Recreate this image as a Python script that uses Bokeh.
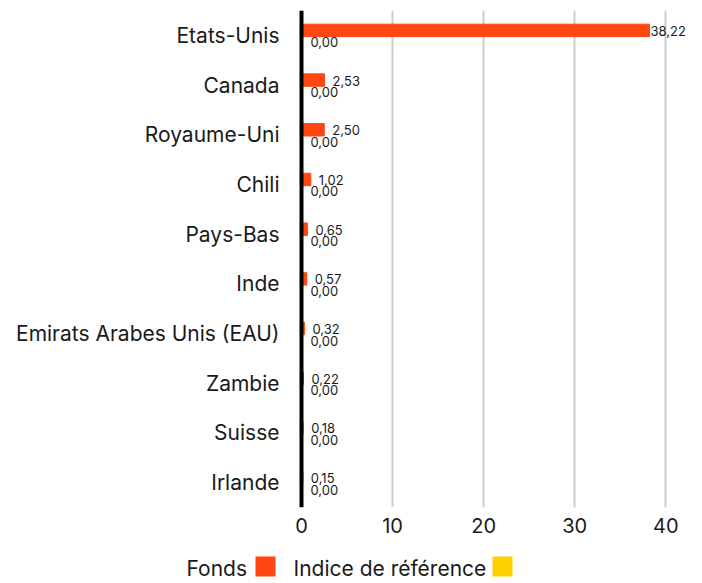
from bokeh.plotting import figure
from bokeh.models import ColumnDataSource, Range1d, FactorRange, Span
from bokeh.transform import dodge
from bokeh.layouts import column
from bokeh.embed import file_html
from bokeh.resources import INLINE
from bokeh.core.properties import value

countries = ["Etats-Unis", "Canada", "Royaume-Uni", "Chili", "Pays-Bas", "Inde",
             "Emirats Arabes Unis (EAU)", "Zambie", "Suisse", "Irlande"]
fonds = [38.22, 2.53, 2.50, 1.02, 0.65, 0.57, 0.32, 0.22, 0.18, 0.15]
indice = [0.00, 0.00, 0.00, 0.00, 0.00, 0.00, 0.00, 0.00, 0.00, 0.00]
series_names = ["Fonds", "Indice de référence"]
x_ticks = [0, 10, 20, 30, 40]

ORANGE = "#FF4713"
YELLOW = "#FFCE00"
FONT = "Inter"
TXT = "#1a1a1a"

def fmt(v):
    return f"{v:.2f}".replace(".", ",")

src = ColumnDataSource(dict(
    country=countries,
    zero=[0] * len(countries),
    fonds=fonds,
    indice=indice,
    fonds_lbl=[fmt(v) for v in fonds],
    indice_lbl=[fmt(v) for v in indice],
))

W, RIGHT = 700, 12
FW = W - RIGHT            # frame spans the full width
ZERO_PX = 301             # where 0 sits on the page
PX_PER_UNIT = 9.106
x_start = -ZERO_PX / PX_PER_UNIT
x_end = (FW - ZERO_PX) / PX_PER_UNIT

p = figure(width=W, height=543, y_range=FactorRange(*countries[::-1]),
           x_range=Range1d(x_start, x_end), output_backend="svg", toolbar_location=None,
           min_border_left=0, min_border_right=RIGHT, min_border_top=10, min_border_bottom=36)

p.hbar(y=dodge("country", 0.1, range=p.y_range), right="fonds", left=0, height=0.25,
       color=ORANGE, source=src)
p.hbar(y=dodge("country", -0.15, range=p.y_range), right="indice", left=0, height=0.25,
       color=YELLOW, source=src)

# category labels (left of the zero line)
p.text(x="zero", y="country", text="country", source=src, x_offset=-22,
       text_font=value(FONT), text_font_size="21px", text_baseline="middle",
       text_align="right", text_color=TXT)

# value labels
big = [i for i, v in enumerate(fonds) if v > 35]
small = [i for i, v in enumerate(fonds) if v <= 35]
for idxs, off in ((big, 1), (small, 8)):
    if not idxs:
        continue
    s = ColumnDataSource(dict(country=[countries[i] for i in idxs],
                              fonds=[fonds[i] for i in idxs],
                              lbl=[fmt(fonds[i]) for i in idxs]))
    p.text(x="fonds", y=dodge("country", 0.09, range=p.y_range), text="lbl", source=s,
           x_offset=off, text_font=value(FONT), text_font_size="13px",
           text_baseline="middle", text_align="left", text_color=TXT)
p.text(x="indice", y=dodge("country", -0.14, range=p.y_range), text="indice_lbl", source=src,
       x_offset=9, text_font=value(FONT), text_font_size="13px",
       text_baseline="middle", text_align="left", text_color=TXT)

p.add_layout(Span(location=0, dimension="height", line_color="black", line_width=4))

p.outline_line_color = None
p.ygrid.grid_line_color = None
p.yaxis.visible = False
p.xgrid.grid_line_color = "#cccccc"
p.xgrid.grid_line_width = 2
p.xgrid.ticker = x_ticks[1:]
p.xaxis.ticker = x_ticks
p.xaxis.axis_line_color = None
p.xaxis.major_tick_line_color = None
p.xaxis.minor_tick_line_color = None
p.xaxis.major_label_text_font = FONT
p.xaxis.major_label_text_font_size = "20px"
p.xaxis.major_label_text_color = TXT
p.xaxis.major_label_standoff = 4

# legend strip: frame spans the same full width, x in page pixels
lg = figure(width=W, height=40, x_range=Range1d(0, FW), y_range=Range1d(0, 40),
            output_backend="svg", toolbar_location=None,
            min_border_left=0, min_border_right=RIGHT, min_border_top=0, min_border_bottom=0)
lg.axis.visible = False
lg.grid.visible = False
lg.outline_line_color = None
lg.text(x=[186, 293], y=[15, 15], text=series_names, text_font=value(FONT),
        text_font_size="21px", text_baseline="middle", text_align="left",
        text_color=TXT)
lg.quad(left=[255, 492], right=[275, 512], bottom=[7, 7], top=[27, 27],
        color=[ORANGE, YELLOW], line_color=None)

layout = column(p, lg, spacing=0)
open("out.html", "w").write(file_html(layout, INLINE))
